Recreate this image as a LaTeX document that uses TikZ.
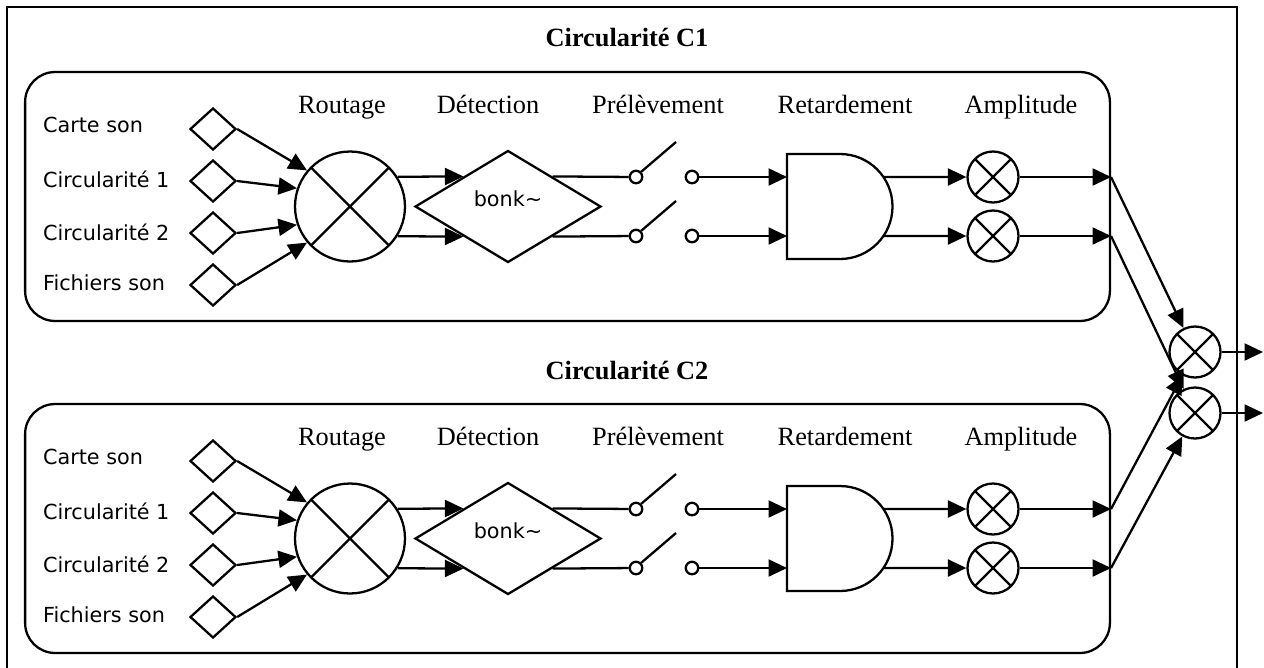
\documentclass[tikz,border=0pt]{standalone}
\usepackage{fontspec}
\setmainfont{Liberation Serif}
\newfontfamily\labelfont{DejaVu Sans}
\usetikzlibrary{arrows.meta,shapes.geometric}
\tikzset{
    panel/.style =  {rectangle,
                    rounded corners=0.6cm,
                    draw=black,
                    minimum width=21.7cm,
                    minimum height=4.98cm,
                    inner sep=0pt},
    source/.style = {diamond,
                    draw=black,
                    fill=white,
                    minimum width=0.92cm,
                    minimum height=0.84cm,
                    inner sep=0pt},
    mixer/.style =  {circle,
                    draw=black,
                    fill=white,
                    inner sep=0pt,
                    path picture={\draw (path picture bounding box.north west) -- (path picture bounding box.south east)
                                        (path picture bounding box.north east) -- (path picture bounding box.south west);}},
    router/.style = {mixer,
                    minimum size=2.2cm},
    amp/.style =    {mixer,
                    minimum size=1.02cm},
    detector/.style = {diamond,
                    draw=black,
                    minimum width=3.72cm,
                    minimum height=2.24cm,
                    inner sep=0pt,
                    font=\labelfont\fontsize{11.8}{14}\selectfont},
    contact/.style = {circle,
                    draw=black,
                    inner sep=0pt,
                    minimum size=0.25cm},
    gate/.style =   {rectangle,
                    inner sep=0pt,
                    outer sep=0pt,
                    minimum width=2.12cm,
                    minimum height=2.1cm},
    caption/.style = {font=\bfseries\fontsize{15}{18}\selectfont,
                    anchor=base},
    header/.style = {font=\fontsize{15}{18}\selectfont,
                    anchor=base},
    entry/.style =  {font=\labelfont\fontsize{11.8}{14}\selectfont,
                    anchor=base west,
                    inner sep=0pt},
    >={Triangle[length=0.37cm,width=0.34cm]}}

\begin{document}
\begin{tikzpicture}[x=0.02cm, y=-0.02cm, line width=1.3pt]
\useasboundingbox (0,0) rectangle (1264,667);
\draw (7,668) -- (7,7) -- (1237,7) -- (1237,668);
\node[caption]  (C1) at (627,46.5)  {Circularité C1};
\node[caption]  (C2) at (627,379.5) {Circularité C2};
\foreach \k/\dy in {1/0,2/332}{
    \node[panel]    (B\k)  at (567.5,196.5+\dy) {};
    \node[header]   (H1\k) at (342,113+\dy)  {Routage};
    \node[header]   (H2\k) at (488,113+\dy)  {Détection};
    \node[header]   (H3\k) at (658,113+\dy)  {Prélèvement};
    \node[header]   (H4\k) at (845,113+\dy)  {Retardement};
    \node[header]   (H5\k) at (1021,113+\dy) {Amplitude};
    \node[entry]    (E1\k) at (42,132+\dy) {Carte son};
    \node[entry]    (E2\k) at (42,187+\dy) {Circularité 1};
    \node[entry]    (E3\k) at (42,240+\dy) {Circularité 2};
    \node[entry]    (E4\k) at (42,290+\dy) {Fichiers son};
    \node[source]   (P1\k) at (213,129+\dy) {};
    \node[source]   (P2\k) at (213,181+\dy) {};
    \node[source]   (P3\k) at (213,233+\dy) {};
    \node[source]   (P4\k) at (213,285+\dy) {};
    \node[router]   (Rt\k) at (350,206.5+\dy) {};
    \node[detector] (Dt\k) at (508,206.5+\dy) {\raisebox{0.3cm}{bonk\textasciitilde}};
    \node[contact]  (Sa\k) at (636,177+\dy) {};
    \node[contact]  (Sb\k) at (636,236+\dy) {};
    \coordinate     (La\k) at (676,142+\dy);
    \coordinate     (Lb\k) at (676,201+\dy);
    \node[contact]  (Ta\k) at (692,177+\dy) {};
    \node[contact]  (Tb\k) at (692,236+\dy) {};
    \node[gate]     (G\k)  at (840,206.5+\dy) {};
    \draw (G\k.north west) -- ++(53,0) arc[start angle=90,end angle=-90,radius=1.05cm] -- (G\k.south west) -- cycle;
    \coordinate     (Ga\k) at ([shift={(34.2:1.05cm)}]G\k.center);
    \coordinate     (Gb\k) at ([shift={(-34.2:1.05cm)}]G\k.center);
    \node[amp]      (Aa\k) at (993,177+\dy) {};
    \node[amp]      (Ab\k) at (993,236+\dy) {};
    \coordinate     (Oa\k) at (Aa\k -| B\k.east);
    \coordinate     (Ob\k) at (Ab\k -| B\k.east);
    \path [->] (P1\k.east) edge (Rt\k.140)
               (P2\k.east) edge (Rt\k.161)
               (P3\k.east) edge (Rt\k.199)
               (P4\k.east) edge (Rt\k.220)
               (Rt\k.32)   edge (Dt\k.146)
               (Rt\k.-32)  edge (Dt\k.-146)
               (Ta\k)      edge (Ta\k -| G\k.west)
               (Tb\k)      edge (Tb\k -| G\k.west)
               (Ga\k)      edge (Aa\k)
               (Gb\k)      edge (Ab\k)
               (Aa\k)      edge (Oa\k)
               (Ab\k)      edge (Ob\k);
    \path (Dt\k.34)  edge (Sa\k)
          (Dt\k.-34) edge (Sb\k)
          (Sa\k.45)  edge (La\k)
          (Sb\k.45)  edge (Lb\k);
}
\node[amp]  (M1) at (1195,352) {};
\node[amp]  (M2) at (1195,413) {};
\coordinate (X1) at (1263,352);
\coordinate (X2) at (1263,413);
\path [->] (Oa1) edge (M1)
           (Ob1) edge (M2)
           (Oa2) edge (M1)
           (Ob2) edge (M2)
           (M1)  edge (X1)
           (M2)  edge (X2);
\end{tikzpicture}
\end{document}
